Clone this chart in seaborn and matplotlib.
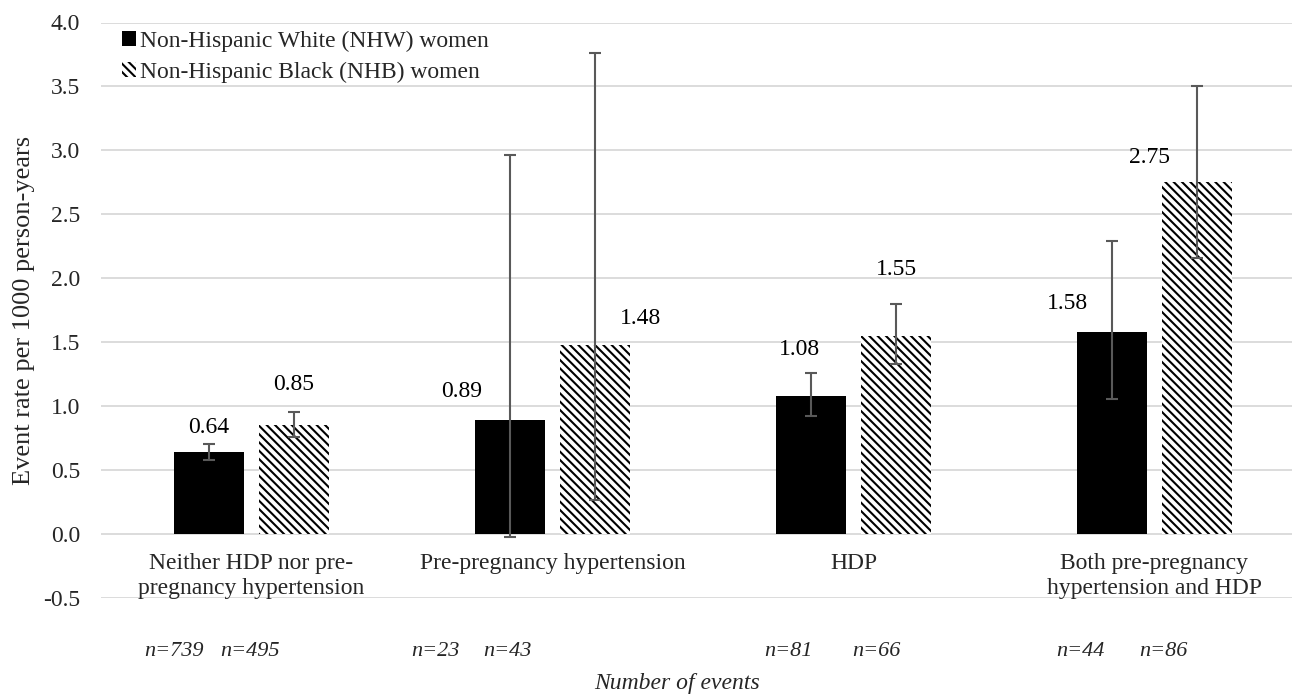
import seaborn as sns
import matplotlib.pyplot as plt
from matplotlib.patches import Patch
import pandas as pd
import numpy as np

# -------------- DONNEES -------------------#

categories = ["Neither HDP nor pre-\npregnancy hypertension",
              "Pre-pregnancy hypertension",
              "HDP",
              "Both pre-pregnancy\nhypertension and HDP"]
series = ["Non-Hispanic White (NHW) women", "Non-Hispanic Black (NHB) women"]

nhw_rate = [0.64, 0.89, 1.08, 1.58]
nhw_low = [0.58, -0.03, 0.92, 1.05]
nhw_high = [0.70, 2.96, 1.26, 2.29]

nhb_rate = [0.85, 1.48, 1.55, 2.75]
nhb_low = [0.76, 0.26, 1.33, 2.16]
nhb_high = [0.95, 3.76, 1.80, 3.50]

nhw_n = [739, 23, 81, 44]
nhb_n = [495, 43, 66, 86]

y_ticks = [-0.5, 0.0, 0.5, 1.0, 1.5, 2.0, 2.5, 3.0, 3.5, 4.0]

# décalages des étiquettes (pixels)
nhw_lab_dx = [0, -48, -11, -44]
nhw_lab_dy = [24, 28, 46, 28]
nhb_lab_dx = [0, 46, 0, -48]
nhb_lab_dy = [41, 26, 66, 25]
nhw_n_dx = [-78, -117, -65, -74]
nhb_n_dx = [-2, -45, 23, 9]

# -------------- FIGURE -------------------#

sns.set_theme(style='white')
plt.rcParams['font.family'] = ['Liberation Serif', 'DejaVu Serif']
plt.rcParams['hatch.linewidth'] = 1.5
fs = 17
hatch = '\\\\\\\\'

df = pd.DataFrame({
    'cat': categories * 2,
    'rate': nhw_rate + nhb_rate,
    'race': [series[0]] * 4 + [series[1]] * 4,
})

fig = plt.figure(figsize=(12.92, 6.95), dpi=100)
ax = fig.add_axes([101 / 1292, 97.5 / 695, 1204 / 1292, 575 / 695])

sns.barplot(data=df, x='cat', y='rate', hue='race', order=categories, hue_order=series,
            palette=['black', 'white'], saturation=1, width=0.565, gap=0.188,
            edgecolor='black', linewidth=0, legend=False, ax=ax, zorder=2)

for p in ax.containers[1]:
    p.set_hatch(hatch)
    p.set_edgecolor('black')
    p.set_linewidth(0)

# barres d'erreur
groups = [(nhw_rate, nhw_low, nhw_high, nhw_lab_dx, nhw_lab_dy),
          (nhb_rate, nhb_low, nhb_high, nhb_lab_dx, nhb_lab_dy)]
for cont, (rate, lo, hi, dx, dy) in zip(ax.containers, groups):
    xs = [p.get_x() + p.get_width() / 2 for p in cont]
    rate = np.array(rate)
    yerr = [rate - np.array(lo), np.array(hi) - rate]
    ax.errorbar(xs, rate, yerr=yerr, fmt='none', ecolor='#595959', elinewidth=1.5,
                capsize=4.3, capthick=1.5, zorder=3)
    for x, v, ddx, ddy in zip(xs, rate, dx, dy):
        ax.annotate(f'{v:.2f}', xy=(x, v), xytext=(ddx, ddy), textcoords='offset pixels',
                    ha='center', va='center', fontsize=fs, color='#000000')

ax.set_ylim(-0.5, 4.0)
ax.set_xlim(-0.5, 3.5)
ax.set_yticks(y_ticks)
ax.set_yticklabels([f'{t:.1f}' for t in y_ticks], fontsize=fs)
ax.tick_params(axis='y', length=0, pad=15)
ax.set_xticks([])
ax.set_xlabel('')
ax.set_ylabel('Event rate per 1000 person-years', fontsize=19, labelpad=6)
ax.yaxis.grid(True, color='#d9d9d9', linewidth=1.3, zorder=0)
ax.set_axisbelow(True)
sns.despine(ax=ax, left=True, bottom=True)

# étiquettes des catégories sous la ligne 0
for i, c in enumerate(categories):
    ax.annotate(c, xy=(i, 0), xytext=(0, -19), textcoords='offset pixels',
                ha='center', va='top', fontsize=fs, linespacing=1.27)

# nombre d'événements
for i in range(len(categories)):
    ax.annotate(f'n={nhw_n[i]}', xy=(i, -0.5), xytext=(nhw_n_dx[i], -54), textcoords='offset pixels',
                ha='center', va='center', fontsize=16, style='italic')
    ax.annotate(f'n={nhb_n[i]}', xy=(i, -0.5), xytext=(nhb_n_dx[i], -54), textcoords='offset pixels',
                ha='center', va='center', fontsize=16, style='italic')
fig.text(677 / 1292, 1 - 684 / 695, 'Number of events', ha='center', va='center',
         fontsize=fs, style='italic')

handles = [Patch(facecolor='black', edgecolor='black', linewidth=0),
           Patch(facecolor='white', edgecolor='black', linewidth=0, hatch=hatch)]
ax.legend(handles, series, loc='upper left', bbox_to_anchor=(122 / 1292, 1 - 31 / 695),
          bbox_transform=fig.transFigure, frameon=False, fontsize=fs, handlelength=0.6,
          handleheight=0.6, handletextpad=0.15, labelspacing=0.42, borderpad=0, borderaxespad=0)

plt.savefig('out.png', dpi=100)
